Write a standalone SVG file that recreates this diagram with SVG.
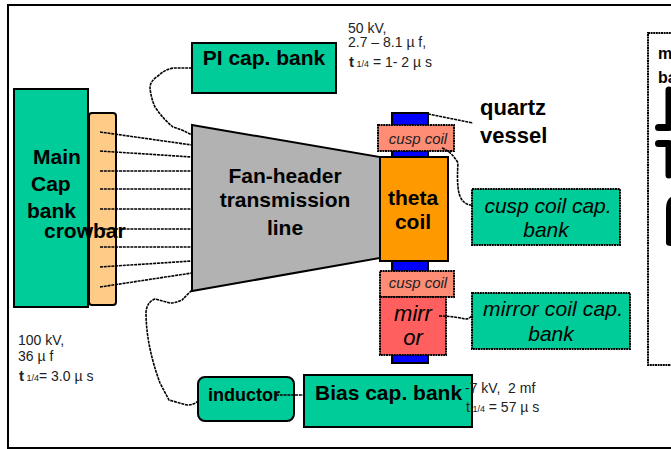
<svg xmlns="http://www.w3.org/2000/svg" width="671" height="449" viewBox="0 0 671 449">
<style>
text{font-family:"Liberation Sans",Arial,sans-serif;fill:#000}
.b{font-weight:bold;font-size:21px}
.q{font-weight:bold;font-size:22px}
.c{font-weight:bold;font-size:21px;text-anchor:middle}
.i{font-style:italic;font-size:21px;text-anchor:middle}
.s{font-size:14px;fill:#222}
.cc{font-size:15px;font-style:italic;text-anchor:middle;fill:#222}
.g{fill:#00cc99}
.k{stroke:#000;stroke-width:2}
.d{stroke:#000;stroke-width:2;stroke-dasharray:2 .6}
.w{fill:none;stroke:#000;stroke-width:1.6;stroke-dasharray:3 .8}
.u{font-size:9px}
</style>
<rect x="8" y="5" width="680" height="443" fill="#fff" stroke="#000" stroke-width="2"/>
<g id="right-box"><rect x="648" y="33" width="40" height="332" fill="#fff" class="d"/>
<text x="658" y="59" font-size="16" font-weight="bold">m</text>
<text x="658" y="83" font-size="16" font-weight="bold">ba</text>
<path d="M669 90V127.500H658.500" fill="none" stroke="#000" stroke-width="7" stroke-linecap="round" stroke-linejoin="round"/>
<path d="M658.500 143.500H669V175" fill="none" stroke="#000" stroke-width="7" stroke-linecap="round" stroke-linejoin="round"/>
<path d="M671 197Q666 200 666 208V243Q666 246 671 246Z" fill="#000"/></g>
<g id="quartz-vessel"><rect x="392" y="113" width="36" height="250" fill="#0000ff" class="k"/></g>
<g id="main-cap-bank"><rect x="14" y="89" width="74" height="218" class="g k"/></g>
<g id="crowbar"><rect x="89" y="113" width="27" height="192" rx="3" fill="#ffcc88" class="k"/></g>
<g id="fan-header"><polygon points="192,125 380,157 380,258 192,291" fill="#b2b2b2" class="k"/>
<text class="c" x="285" y="183">Fan-header</text><text class="c" x="285" y="207">transmission</text><text class="c" x="285" y="235">line</text></g>
<g id="theta-coil"><rect x="380" y="157" width="68" height="104" fill="#ff9900" class="k"/>
<text class="c" x="413" y="205">theta</text><text class="c" x="413" y="229">coil</text></g>
<g id="cusp-coil-top"><rect x="378" y="125" width="76" height="26" fill="#ff8c75" class="d"/>
<text class="cc" x="418" y="144">cusp coil</text></g>
<g id="cusp-coil-bottom"><rect x="380" y="271" width="74" height="26" fill="#ff8c75" class="d"/>
<text class="cc" x="418" y="288">cusp coil</text></g>
<g id="mirror"><rect x="380" y="297" width="66" height="58" fill="#ff5f5f" class="d"/>
<text class="i" x="413" y="321" style="font-size:22px">mirr</text><text class="i" x="413" y="345" style="font-size:22px">or</text></g>
<g id="cusp-bank"><rect x="472" y="189" width="148" height="56" class="g d"/>
<text class="i" x="548" y="213">cusp coil cap.</text><text class="i" x="546" y="237">bank</text></g>
<g id="mirror-bank"><rect x="472" y="293" width="158" height="56" class="g d"/>
<text class="i" x="553" y="316" textLength="140">mirror coil cap.</text><text class="i" x="551" y="341">bank</text></g>
<g id="pi-bank"><rect x="192" y="43" width="144" height="50" class="g k"/>
<text x="264" y="65" text-anchor="middle" class="b">PI cap. bank</text></g>
<g id="inductor"><rect x="198" y="377" width="96" height="44" rx="7" class="g k"/>
<text x="208" y="401" font-size="18" font-weight="bold">inductor</text></g>
<g id="bias-bank"><rect x="304" y="375" width="168" height="52" class="g k"/>
<text x="315" y="400" class="b">Bias cap. bank</text></g>
<g id="connectors">
<path class="w" d="M100 132L192 145M100 151L192 157M100 171H192M100 189H192M100 209H192M100 229H192M100 247H192M100 267L192 261M100 287L192 273"/>
<path class="w" d="M192 68H174Q165 69 158 76Q150 81 150 88Q151 98 155 107Q164 120 173 127L182 130L192 135"/>
<path class="w" d="M192 290Q186 296 182 300Q176 303 170 303L155 299Q147 302 146 312Q146 345 160 383L169 400L187 405Q194 405 198 401"/>
<path class="w" d="M276 395H304"/>
<path class="w" d="M442 148Q452 152 458 163Q457 178 458 187Q459 198 464 202Q467 205 472 205"/>
<path class="w" d="M439 316Q452 316 465 319Q470 319 472 315"/>
<path class="w" d="M428 114L473 123"/>
</g>
<g id="labels">
<text class="b" x="33" y="164">Main</text>
<text class="b" x="31" y="191">Cap</text>
<text class="b" x="27" y="218">bank</text>
<text class="b" x="44" y="238">crowbar</text>
<text class="q" x="480" y="115">quartz</text>
<text class="q" x="480" y="143">vessel</text>
<text class="s"><tspan x="348" y="33">50 kV,</tspan><tspan x="348" y="47">2.7 – 8.1 µ f,</tspan></text>
<text class="s" x="349" y="67"><tspan font-weight="bold" font-size="15">t</tspan><tspan class="u"> 1/4</tspan> = 1- 2 µ s</text>
<text class="s" x="18" y="345">100 kV,</text>
<text class="s" x="18" y="361">36 µ f</text>
<text class="s" x="19" y="381"><tspan font-weight="bold" font-size="15">t</tspan><tspan class="u"> 1/4</tspan>= 3.0 µ s</text>
<text class="s" x="465" y="393" xml:space="preserve">-7 kV,  2 mf</text>
<text class="s" x="466" y="412">t<tspan class="u"> 1/4</tspan> = 57 µ s</text>
</g>
</svg>
